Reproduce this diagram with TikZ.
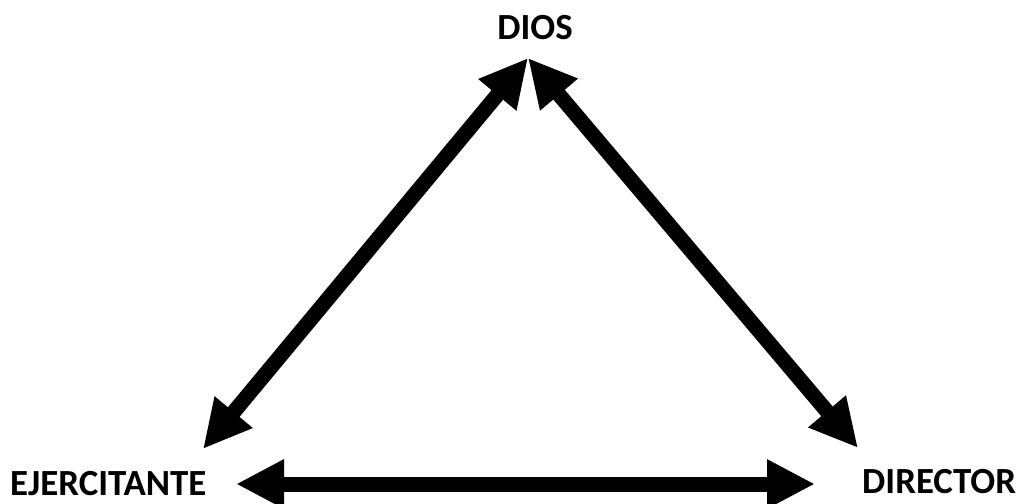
\documentclass[tikz,border=0pt]{standalone}
\usepackage{fontspec}
\setmainfont{Carlito}
\usetikzlibrary{arrows.meta,positioning}

\begin{document}
\begin{tikzpicture}[
    x=1bp, y=-1bp,
    >={Triangle[length=48bp, width=46bp]},
    label/.style={inner sep=0pt, font=\fontsize{37}{44}\selectfont\bfseries},
    link/.style={<->, line width=15bp}
  ]
    \useasboundingbox (0,0) rectangle (1019,504);
    \node[label, anchor=base] (dios) at (535,40) {DIOS};
    \node[label, anchor=base west] (ejer) at (10,495) {EJERCITANTE};
    \node[label, anchor=base west] (dir) at (862,493) {DIRECTOR};
    \coordinate (dios-tip) at (528,58);
    \coordinate (ejer-tip) at (203,449);
    \coordinate (ejer-side) at (236,484);
    \coordinate (dir-tip) at (858,448);
    \coordinate (dir-side) at (815,484);
    \draw[link] (ejer-tip) -- (dios-tip);
    \draw[link] (dios-tip) -- (dir-tip);
    \draw[link] (ejer-side) -- (dir-side);
  \end{tikzpicture}
\end{document}
